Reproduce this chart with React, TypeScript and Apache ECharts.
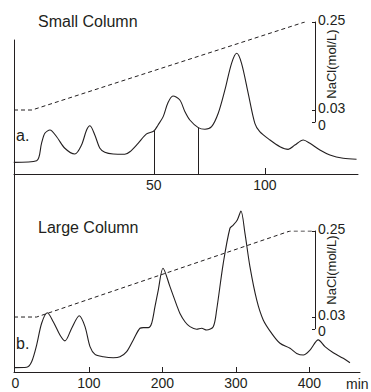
import React, { useEffect, useRef } from 'react';
import * as echarts from 'echarts';

const INK = '#231f20';
const FONT = '"Liberation Sans", Arial, Helvetica, sans-serif';

// ---- Panel a: Small Column (time in min, relative absorbance 0-100) ----
const smallTime = [-13.1, -2.8, -0.6, 0.9, 3.2, 6.2, 9.9, 14.4, 17.4, 19.7, 21.2, 23.4, 25.7, 27.9, 31.7, 36.9, 39.2, 42.9, 46.7, 50, 51.9, 54.2, 56.3, 58.6, 61.7, 64.0, 66.2, 70.0, 73.0, 76.0, 79.0, 82.0, 85.0, 87.3, 89.5, 92.5, 95.5, 97.7, 102.3, 106.8, 110.5, 113.5, 117.3, 120.3, 124.8, 129.3, 135.3, 141.3];
const smallAbs = [8.7, 9.9, 22.9, 30.4, 32.8, 27.8, 19.2, 14.9, 21.6, 32.8, 36.0, 29.1, 19.2, 16.2, 14.9, 14.7, 16.6, 22.9, 29.9, 32.1, 36.6, 42.8, 53.0, 58.2, 55.2, 46.5, 40.3, 34.6, 33.4, 35.3, 45.3, 62.7, 82.6, 90.1, 82.6, 60.2, 37.8, 31.6, 25.4, 20.4, 18.4, 21.6, 25.4, 22.9, 17.9, 14.2, 11.7, 11.0];
const smallNaClTime = [-13, -4.9, 118];
const smallNaCl = [0.03, 0.03, 0.25];
const smallFractions = [50, 70];
const smallTicks = [50, 100];

// ---- Panel b: Large Column ----
const largeTime = [-2.0, 15.2, 22.0, 28.8, 35.6, 43.3, 51.4, 60.5, 67.3, 76.5, 86.8, 94.6, 101.4, 108.2, 119.5, 133.1, 142.2, 151.3, 160.3, 169.4, 173.9, 180.7, 185.3, 189.8, 194.3, 200.7, 210.2, 219.3, 223.8, 230.6, 237.4, 246.5, 253.3, 260.1, 269.1, 273.7, 282.7, 291.8, 296.3, 301.8, 306.8, 312.2, 319.0, 328.2, 337.1, 348.6, 359.9, 373.5, 382.6, 391.6, 400.7, 412.0, 421.1, 432.4, 446.0, 455.1];
const largeAbs = [2.2, 2.4, 5.2, 13.6, 24.6, 29.9, 25.4, 18.7, 15.7, 22.1, 28.4, 22.9, 12.8, 8.9, 7.7, 7.2, 7.7, 10.3, 16.2, 22.1, 22.4, 22.4, 24.6, 33.0, 41.4, 52.4, 43.1, 33.8, 29.6, 25.4, 22.9, 21.6, 22.1, 21.2, 22.9, 31.3, 54.9, 72.6, 74.2, 76.8, 81.3, 70.1, 53.2, 36.4, 26.3, 19.5, 14.5, 12.0, 9.4, 8.6, 11.1, 16.2, 12.8, 9.7, 6.9, 4.7];
const largeNaClTime = [-2, 28.8, 373.5, 405];
const largeNaCl = [0.03, 0.03, 0.25, 0.25];
const largeTicks = [100, 200, 300, 400];
const largeLabels = [0, 100, 200, 300, 400];

// NaCl axis: labelled levels (the zero tick is drawn on its own axis so its label is not dropped)
const naclTicks = [0.03, 0.25];
const naclZero = [0];

// layout (pixels) and scale
const TOP_MIN = -13;
const TOP_PX = 2.22;
const BOT_MIN = -2;
const BOT_PX = 0.735;
const LEFT = 14;
const TOP_W = 344;
const BOT_W = 346;
const NACL_W = 301;

function interp(xs: number[], ys: number[], x: number) {
  for (let i = 0; i < xs.length - 1; i++) {
    if (x >= xs[i] && x <= xs[i + 1]) {
      const t = (x - xs[i]) / (xs[i + 1] - xs[i]);
      return ys[i] + t * (ys[i + 1] - ys[i]);
    }
  }
  return 0;
}

const pairs = (xs: number[], ys: number[]) => xs.map((x, i) => [x, ys[i]]);

export default function App() {
  const ref = useRef<HTMLDivElement>(null);
  useEffect(() => {
    document.body.style.margin = '0';
    const chart = echarts.init(ref.current!, null, { renderer: 'svg' });
    const absY = (gi: number) => ({
      gridIndex: gi,
      type: 'value',
      min: 0,
      max: 100,
      axisLine: { show: true, onZero: false, lineStyle: { color: INK, width: 1 } },
      axisTick: { show: false },
      axisLabel: { show: false },
      splitLine: { show: false },
    });
    const naclY = (gi: number, values: number[], line: boolean, vAlign: string) => ({
      gridIndex: gi,
      type: 'value',
      position: 'right',
      min: 0,
      max: 0.25,
      axisLine: { show: line, onZero: false, lineStyle: { color: INK, width: 1 } },
      axisTick: { show: true, inside: true, length: 3, customValues: values, lineStyle: { color: INK } },
      axisLabel: {
        show: true,
        customValues: values,
        hideOverlap: false,
        showMinLabel: true,
        showMaxLabel: true,
        margin: 3,
        color: INK,
        fontFamily: FONT,
        fontSize: 14,
        verticalAlign: vAlign,
        lineHeight: 5,
        formatter: (v: number) => (v === 0 ? '0' : v.toFixed(2)),
      },
      splitLine: { show: false },
    });
    const option: any = {
      animation: false,
      backgroundColor: '#ffffff',
      grid: [
        { left: LEFT, top: 40, width: TOP_W, height: 134, containLabel: false },
        { left: LEFT, top: 22, width: NACL_W, height: 100, containLabel: false },
        { left: LEFT, top: 174, width: BOT_W, height: 198, containLabel: false },
        { left: LEFT, top: 231, width: NACL_W, height: 97.75, containLabel: false },
      ],
      xAxis: [
        {
          gridIndex: 0,
          type: 'value',
          min: TOP_MIN,
          max: TOP_MIN + TOP_W / TOP_PX,
          axisLine: { show: true, onZero: false, lineStyle: { color: INK, width: 1 } },
          axisTick: { show: true, inside: true, length: 6, customValues: smallTicks, lineStyle: { color: INK } },
          axisLabel: { show: true, customValues: smallTicks, margin: 4, color: INK, fontFamily: FONT, fontSize: 14 },
          splitLine: { show: false },
        },
        { gridIndex: 1, type: 'value', show: false, min: TOP_MIN, max: TOP_MIN + NACL_W / TOP_PX },
        {
          gridIndex: 2,
          type: 'value',
          min: BOT_MIN,
          max: BOT_MIN + BOT_W / BOT_PX,
          axisLine: { show: true, onZero: false, lineStyle: { color: INK, width: 1 } },
          axisTick: { show: true, inside: true, length: 5, customValues: largeTicks, lineStyle: { color: INK } },
          axisLabel: { show: true, customValues: largeLabels, margin: 4, color: INK, fontFamily: FONT, fontSize: 14 },
          splitLine: { show: false },
        },
        { gridIndex: 3, type: 'value', show: false, min: BOT_MIN, max: BOT_MIN + NACL_W / BOT_PX },
      ],
      yAxis: [
        absY(0),
        naclY(1, naclTicks, true, 'bottom'),
        absY(2),
        naclY(3, naclTicks, true, 'bottom'),
        naclY(1, naclZero, false, 'top'),
        naclY(3, naclZero, false, 'top'),
      ],
      series: [
        {
          type: 'line',
          xAxisIndex: 0,
          yAxisIndex: 0,
          data: pairs(smallTime, smallAbs),
          smooth: 0.3,
          showSymbol: false,
          lineStyle: { color: INK, width: 1.1 },
          markLine: {
            silent: true,
            symbol: 'none',
            label: { show: false },
            lineStyle: { color: INK, width: 1, type: 'solid' },
            data: smallFractions.map((f) => [
              { coord: [f, interp(smallTime, smallAbs, f)] },
              { coord: [f, 0] },
            ]),
          },
        },
        {
          type: 'line',
          xAxisIndex: 1,
          yAxisIndex: 1,
          data: pairs(smallNaClTime, smallNaCl),
          showSymbol: false,
          lineStyle: { color: INK, width: 1, type: [4, 3] },
        },
        {
          type: 'line',
          xAxisIndex: 2,
          yAxisIndex: 2,
          data: pairs(largeTime, largeAbs),
          smooth: 0.3,
          showSymbol: false,
          lineStyle: { color: INK, width: 1.1 },
        },
        {
          type: 'line',
          xAxisIndex: 3,
          yAxisIndex: 3,
          data: pairs(largeNaClTime, largeNaCl),
          showSymbol: false,
          lineStyle: { color: INK, width: 1, type: [4, 3] },
        },
      ],
      graphic: [
        { type: 'text', x: 38, y: 21, style: { text: 'Small Column', fill: INK, font: `16px ${FONT}`, textAlign: 'left', textVerticalAlign: 'middle' } },
        { type: 'text', x: 38, y: 227, style: { text: 'Large Column', fill: INK, font: `16px ${FONT}`, textAlign: 'left', textVerticalAlign: 'middle' } },
        { type: 'text', x: 16, y: 135.5, style: { text: 'a.', fill: INK, font: `16px ${FONT}`, textAlign: 'left', textVerticalAlign: 'middle' } },
        { type: 'text', x: 16, y: 343.5, style: { text: 'b.', fill: INK, font: `16px ${FONT}`, textAlign: 'left', textVerticalAlign: 'middle' } },
        { type: 'text', x: 346, y: 383.5, style: { text: 'min', fill: INK, font: `14px ${FONT}`, textAlign: 'left', textVerticalAlign: 'middle' } },
        { type: 'text', x: 331, y: 64, rotation: Math.PI / 2, style: { text: 'NaCl(mol/L)', fill: INK, font: `13px ${FONT}`, textAlign: 'center', textVerticalAlign: 'middle' } },
        { type: 'text', x: 331, y: 270, rotation: Math.PI / 2, style: { text: 'NaCl(mol/L)', fill: INK, font: `13px ${FONT}`, textAlign: 'center', textVerticalAlign: 'middle' } },
      ],
    };
    chart.setOption(option);
    return () => chart.dispose();
  }, []);
  return <div ref={ref} style={{ width: 371, height: 392 }} />;
}
